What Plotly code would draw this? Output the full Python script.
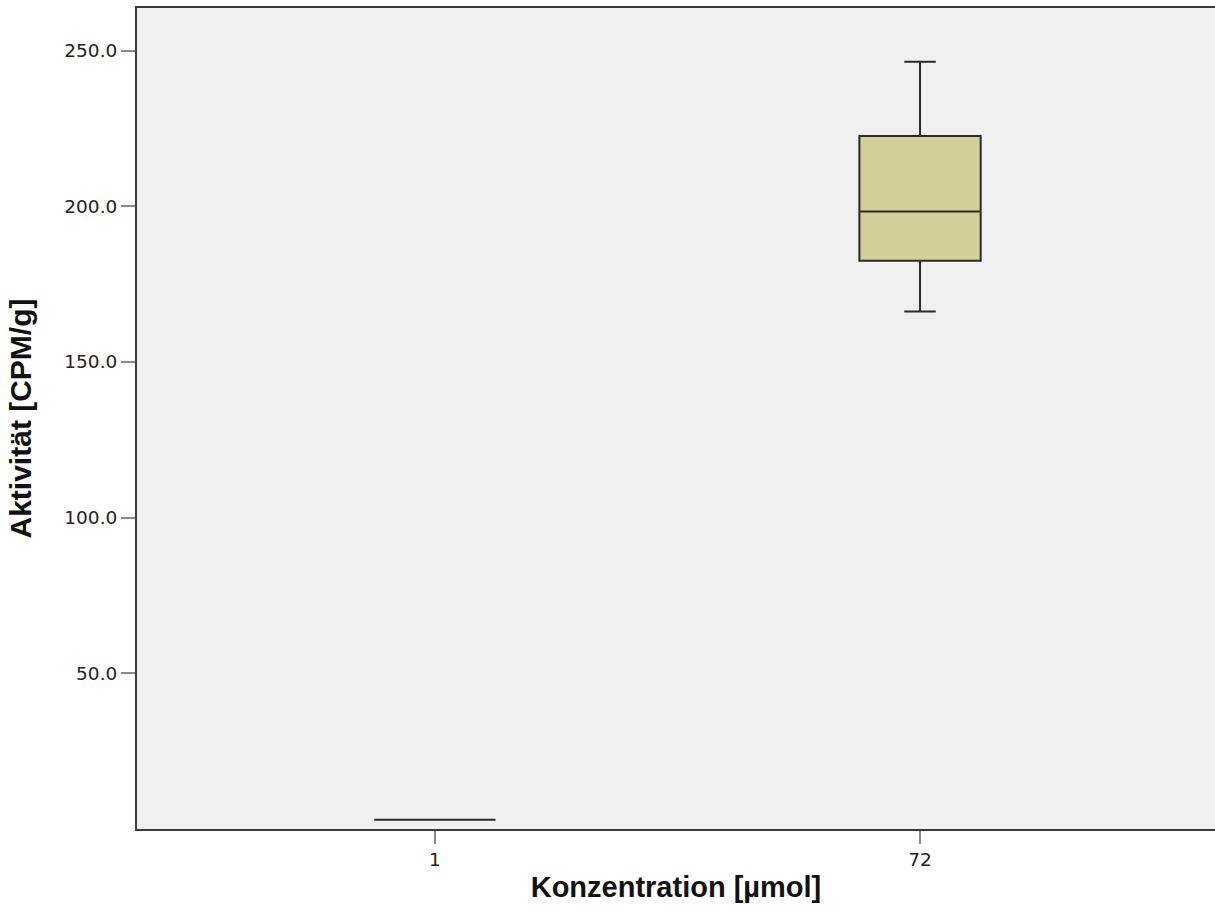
import plotly.graph_objects as go

# Box-plot summary statistics per concentration group
groups = ["1", "72"]
lower_whisker = [3.0, 166.2]
q1 = [3.0, 182.5]
median = [3.0, 198.3]
q3 = [3.0, 222.6]
upper_whisker = [3.0, 246.4]

y_ticks = [50, 100, 150, 200, 250]
y_tick_text = ["50.0", "100.0", "150.0", "200.0", "250.0"]

box_fill = "#D3CF98"
line_col = "#2a2a2a"
axis_col = "#3c3c3c"

fig = go.Figure()
for i, g in enumerate(groups):
    fig.add_trace(go.Box(
        x=[g],
        q1=[q1[i]],
        median=[median[i]],
        q3=[q3[i]],
        lowerfence=[lower_whisker[i]],
        upperfence=[upper_whisker[i]],
        width=0.25,
        whiskerwidth=0.26,
        fillcolor=box_fill,
        line=dict(color=line_col, width=2),
        boxpoints=False,
        showlegend=False,
        hoverinfo="skip",
    ))

fig.update_layout(
    width=1215,
    height=913,
    margin=dict(l=137, r=0, t=8, b=84),
    paper_bgcolor="white",
    plot_bgcolor="#F0F0F0",
    showlegend=False,
)

fig.update_xaxes(
    type="category",
    categoryorder="array",
    categoryarray=groups,
    range=[-0.614, 1.608],
    showgrid=False,
    zeroline=False,
    showline=True,
    linecolor=axis_col,
    linewidth=2,
    mirror=True,
    ticks="outside",
    ticklen=13,
    tickwidth=2,
    tickcolor="#8a8a8a",
    tickfont=dict(family="DejaVu Sans", size=18.5, color="#222222"),
    title=dict(
        text="<b>Konzentration [µmol]</b>",
        font=dict(family="Liberation Sans, Arial", size=29, color="#111111"),
        standoff=7,
    ),
)

fig.update_yaxes(
    range=[0, 263.7],
    tickvals=y_ticks,
    ticktext=y_tick_text,
    showgrid=False,
    zeroline=False,
    showline=True,
    linecolor=axis_col,
    linewidth=2,
    ticks="outside",
    ticklen=14,
    tickwidth=2,
    tickcolor="#8a8a8a",
    tickfont=dict(family="DejaVu Sans", size=18.5, color="#222222"),
    title=dict(
        text="<b>Aktivität [CPM/g]</b>",
        font=dict(family="Liberation Sans, Arial", size=30, color="#111111"),
        standoff=24,
    ),
)

fig.write_html("out.html")
